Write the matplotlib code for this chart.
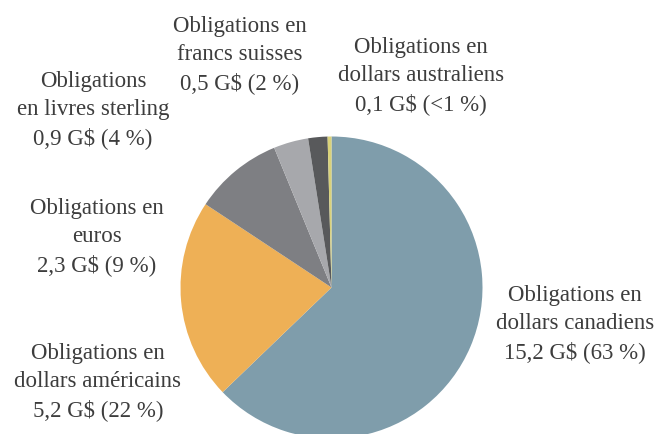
import matplotlib.pyplot as plt

# Répartition des obligations par devise (G$)
labels = [
    "Obligations en\ndollars canadiens\n15,2 G$ (63 %)",
    "Obligations en\ndollars américains\n5,2 G$ (22 %)",
    "Obligations en\neuros\n2,3 G$ (9 %)",
    "Obligations\nen livres sterling\n0,9 G$ (4 %)",
    "Obligations en\nfrancs suisses\n0,5 G$ (2 %)",
    "Obligations en\ndollars australiens\n0,1 G$ (<1 %)",
]
values = [15.2, 5.2, 2.3, 0.9, 0.5, 0.1]
colors = ['#7f9dab', '#eeb056', '#7e7f83', '#a7a8ac', '#58595b', '#d9d27a']

# label centers in pixels (x, y from top)
label_pos = [(575, 324), (98, 382), (97, 237), (93, 110), (240, 55), (421, 76)]

W, H = 666, 435
fig = plt.figure(figsize=(W / 100, H / 100), dpi=100)

# pie: center (331.5, 288.5), radius 151 px
cx, cy, r = 331.5, 288.5, 151
ax = fig.add_axes([(cx - r) / W, (H - cy - r) / H, 2 * r / W, 2 * r / H])
ax.pie(values, colors=colors, startangle=90, counterclock=False,
       wedgeprops=dict(linewidth=0))
ax.set_xlim(-1, 1)
ax.set_ylim(-1, 1)
ax.set_aspect('auto')
ax.axis('off')

for lab, (x, y) in zip(labels, label_pos):
    fig.text(x / W, 1 - y / H, lab, ha='center', va='center',
             fontsize=16.5, family='Liberation Serif', color='#3d3d3d',
             linespacing=1.42)

fig.savefig('out.png', dpi=100)
